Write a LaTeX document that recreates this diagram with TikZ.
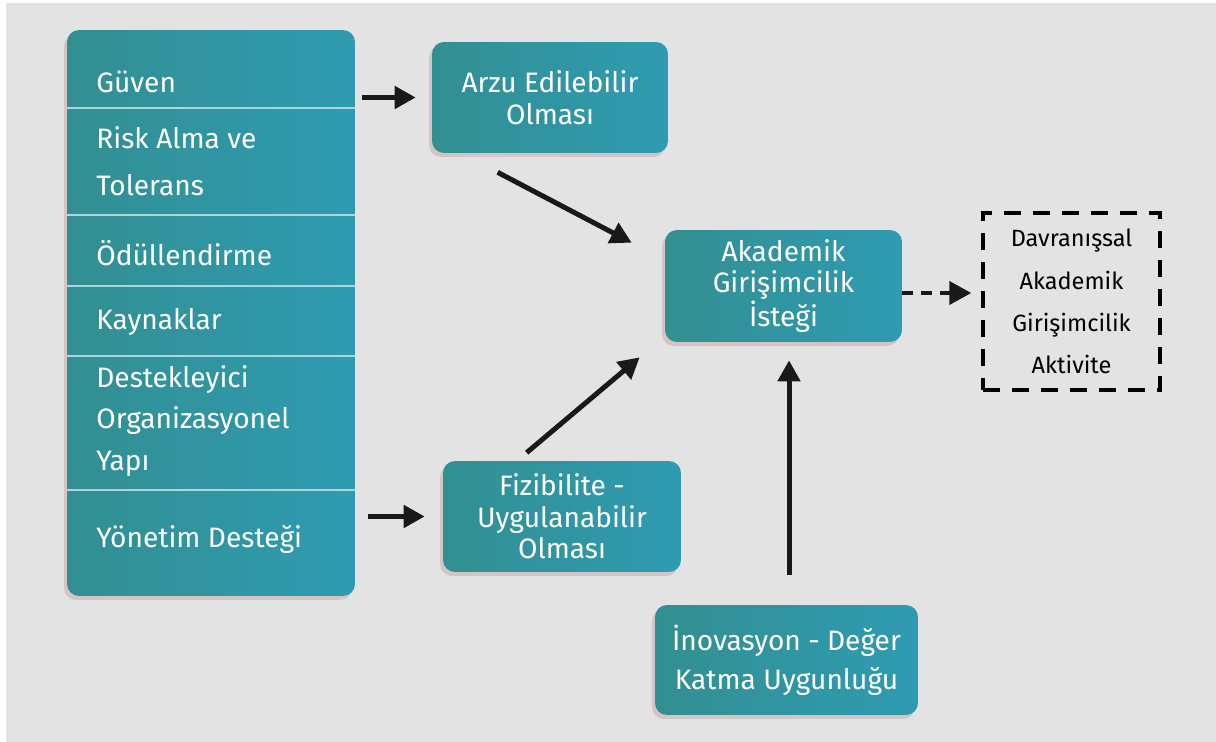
\documentclass[tikz,border=0pt]{standalone}
\usepackage{fontspec}
\setmainfont{Fira Sans}
\usetikzlibrary{arrows.meta,shadows}

\definecolor{tealL}{RGB}{50,143,145}
\definecolor{tealR}{RGB}{47,155,178}
\definecolor{bgGrey}{RGB}{227,227,227}
\definecolor{shadowPink}{RGB}{212,196,196}
\definecolor{divLine}{RGB}{170,214,220}

\tikzset{
  box/.style={rounded corners=0.24cm, left color=tealL, right color=tealR,
    text=white, align=center, inner sep=0pt,
    drop shadow={shadow xshift=-0.06cm, shadow yshift=-0.08cm, fill=shadowPink, opacity=1}},
  rowtxt/.style={text=white, anchor=west, align=left, inner sep=0pt},
  divider/.style={divLine, line width=0.04cm},
  arr/.style={-{Triangle[length=0.42cm,width=0.44cm]}, line width=0.1cm, black!90},
  dasharr/.style={-{Triangle[length=0.44cm,width=0.46cm]}, line width=0.08cm, black!90,
    dash pattern=on 0.22cm off 0.16cm},
}

\begin{document}
\begin{tikzpicture}[x=0.02cm, y=-0.02cm, font=\fontsize{16pt}{18pt}\selectfont]
  % background
  \fill[white] (0,0) rectangle (1216,742);
  \fill[bgGrey] (6,3) rectangle (1216,742);
  \useasboundingbox (0,0) rectangle (1216,742);

  % factor list
  \node[box, minimum width=5.76cm, minimum height=11.32cm] (factors) at (211,313) {};
  \foreach \yy in {108,215,286,356,490} {
    \draw[divider] (factors.west |- 0,\yy) -- (factors.east |- 0,\yy);
  }
  \node[rowtxt] (guven) at (96,82) {Güven};
  \node[rowtxt, font=\fontsize{16pt}{27pt}\selectfont] (risk) at (96,161) {Risk Alma ve\\Tolerans};
  \node[rowtxt] (odul) at (96,253) {Ödüllendirme};
  \node[rowtxt] (kaynak) at (96,322) {Kaynaklar};
  \node[rowtxt, font=\fontsize{16pt}{23.5pt}\selectfont] (destek) at (96,421) {Destekleyici\\Organizasyonel\\Yapı};
  \node[rowtxt] (yonetim) at (96,539) {Yönetim Desteği};

  % middle boxes
  \node[box, minimum width=4.72cm, minimum height=2.22cm] (arzu) at (550,97.5) {Arzu Edilebilir\\Olması};
  \node[box, minimum width=4.76cm, minimum height=2.22cm] (fizi) at (562,516.5) {Fizibilite -\\Uygulanabilir\\Olması};
  \node[box, minimum width=4.74cm, minimum height=2.24cm] (akad) at (783.5,286) {Akademik\\Girişimcilik\\İsteği};
  \node[box, minimum width=5.26cm, minimum height=2.2cm,
    font=\fontsize{16pt}{22pt}\selectfont] (inov) at (786.5,660) {İnovasyon - Değer\\Katma Uygunluğu};

  % outcome
  \node[draw, line width=0.07cm, dash pattern=on 0.34cm off 0.24cm, align=center,
    minimum width=3.54cm, minimum height=3.54cm, inner sep=0pt,
    font=\fontsize{13.4pt}{24pt}\selectfont] (aktivite) at (1071.5,301.5)
    {Davranışsal\\Akademik\\Girişimcilik\\Aktivite};

  % arrows
  \draw[arr, shorten <=0.14cm, shorten >=0.32cm] (factors.east |- arzu.west) -- (arzu.west);
  \draw[arr, shorten <=0.26cm, shorten >=0.36cm] (factors.east |- fizi.west) -- (fizi.west);
  \draw[arr] ([shift={(66,19)}]arzu.south west) -- ([shift={(-33,13)}]akad.north west);
  \draw[arr] ([shift={(84,-8)}]fizi.north west) -- ([shift={(-25,15)}]akad.south west);
  \draw[arr, shorten <=0.6cm, shorten >=0.36cm] ([xshift=0.05cm]inov.north) -- ([xshift=0.05cm]inov.north |- akad.south);
  \draw[dasharr, shorten >=0.2cm] ([yshift=-0.14cm]akad.east) -- ([yshift=-0.14cm]akad.east -| aktivite.west);
\end{tikzpicture}
\end{document}
